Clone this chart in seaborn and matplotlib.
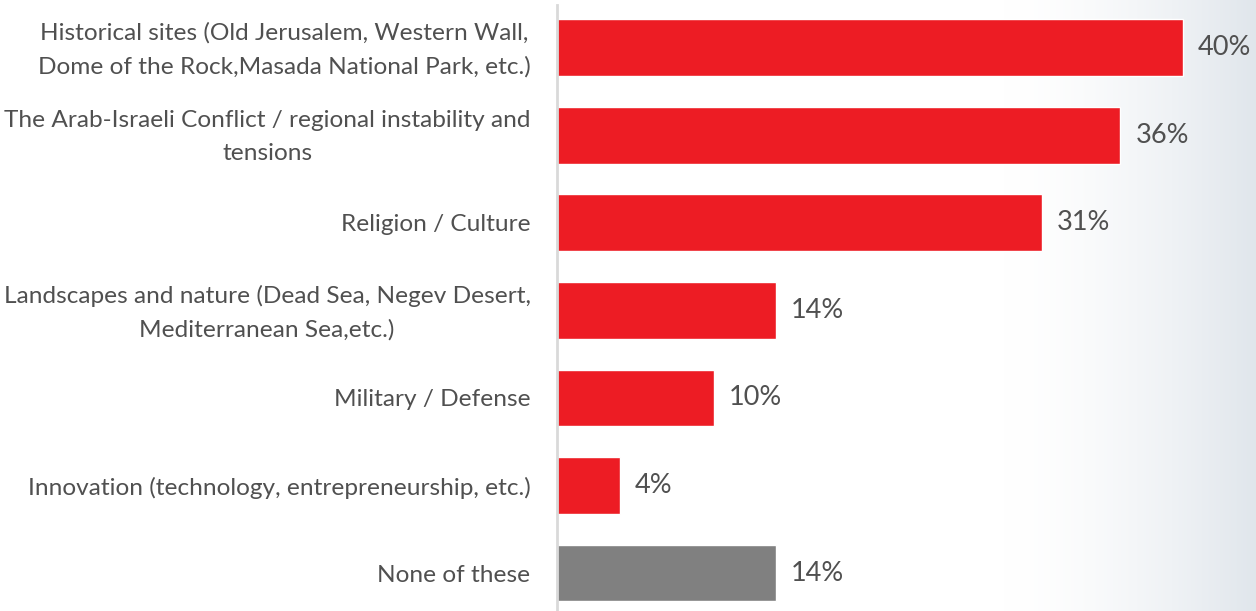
import numpy as np
import pandas as pd
import matplotlib
matplotlib.use("Agg")
import matplotlib.pyplot as plt
import matplotlib.transforms as mtransforms
import seaborn as sns

categories = [
    "Historical sites (Old Jerusalem, Western Wall,\nDome of the Rock,Masada National Park, etc.)",
    "The Arab-Israeli Conflict / regional instability and\ntensions",
    "Religion / Culture",
    "Landscapes and nature (Dead Sea, Negev Desert,\nMediterranean Sea,etc.)",
    "Military / Defense",
    "Innovation (technology, entrepreneurship, etc.)",
    "None of these",
]
values = [40, 36, 31, 14, 10, 4, 14]
bar_colors = ["#ED1C24"] * 6 + ["#808080"]

sns.set_theme(style="white")
plt.rcParams["font.family"] = ["Lato", "DejaVu Sans"]

df = pd.DataFrame({"category": categories, "value": values})

fig = plt.figure(figsize=(12.56, 6.11), dpi=100)

# faint grey-blue backdrop fading in along the right edge
bg = fig.add_axes([0, 0, 1, 1], zorder=0)
w = 600
x = np.arange(w) / (w - 1)
grad = np.clip((x - 0.80) / 0.20, 0, 1) ** 1.6 * 0.75
rgb_end = np.array([0.84, 0.87, 0.90])
img = (1 - grad[None, :, None]) + rgb_end[None, None, :] * grad[None, :, None]
bg.imshow(img, aspect="auto", extent=[0, 1, 0, 1])
bg.set_xlim(0, 1)
bg.set_ylim(0, 1)
bg.axis("off")

ax = fig.add_axes([557 / 1256, 0, 1 - 557 / 1256, 606 / 611], zorder=1)
ax.patch.set_alpha(0)

sns.barplot(data=df, x="value", y="category", hue="category",
            palette=bar_colors, legend=False, width=0.65,
            saturation=1, ax=ax)

ax.set_xlim(0, 44.66)
ax.set_ylim(6.434, -0.49)
ax.set_xlabel("")
ax.set_ylabel("")
ax.set_xticks([])
ax.tick_params(axis="y", length=0, pad=19, labelsize=17.6, labelcolor="#505050")

# nudge two-line labels up so the block sits centred on its bar
lift = mtransforms.ScaledTranslation(0, 6 / 100, fig.dpi_scale_trans)
for lbl in ax.get_yticklabels():
    lbl.set_horizontalalignment("right")
    lbl.set_multialignment("center")
    lbl.set_linespacing(1.7)
    if "\n" in lbl.get_text():
        lbl.set_transform(lbl.get_transform() + lift)

for s in ["top", "right", "bottom"]:
    ax.spines[s].set_visible(False)
ax.spines["left"].set_color("#d9d9d9")
ax.spines["left"].set_linewidth(2)

for i, v in enumerate(values):
    ax.text(v + 0.95, i, f"{v}%", va="center", ha="left",
            fontsize=19.5, color="#505050")

fig.savefig("out.png", dpi=100)
